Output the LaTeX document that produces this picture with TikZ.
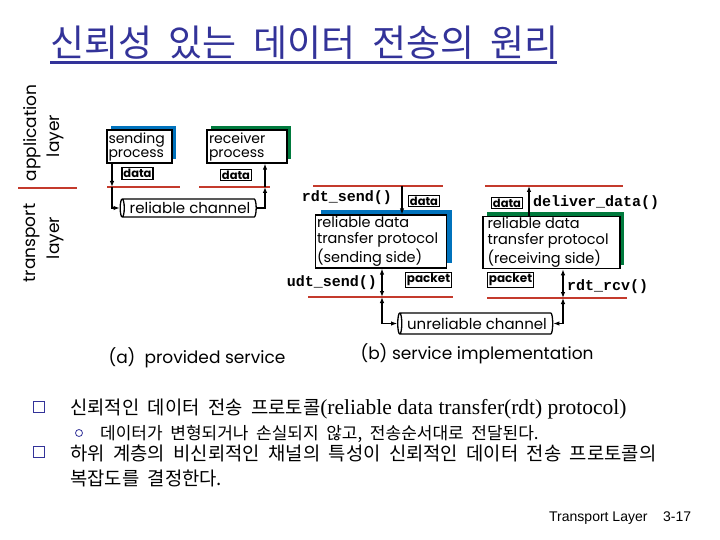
\documentclass[tikz,border=0pt]{standalone}
\usepackage{fontspec}
\setmainfont{Poppins}
\setmonofont{Liberation Mono}
\newfontfamily\cjk{Noto Sans CJK KR}[WordSpace=2]
\newfontfamily\serifrm{Liberation Serif}
\newfontfamily\arialsf{Liberation Sans}
\usepackage{tikz}
\usetikzlibrary{positioning,arrows.meta,shapes.geometric,shadows}
\definecolor{titleblue}{RGB}{51,51,153}
\definecolor{layerred}{RGB}{196,58,44}
\definecolor{sendblue}{RGB}{0,114,188}
\definecolor{recvgreen}{RGB}{0,122,61}
\newcommand{\fsz}[1]{\fontsize{#1}{#1}\selectfont}

\begin{document}
\begin{tikzpicture}[
  x=1pt, y=-1pt, >={Latex[length=6pt,width=4.5pt]},
  proc/.style={draw, line width=1.3pt, fill=white, align=flush left, inner sep=1.5pt, font=\fsz{14}},
  sendshadow/.style={general shadow={fill=sendblue, shadow xshift=#1, shadow yshift=#1}},
  recvshadow/.style={general shadow={fill=recvgreen, shadow xshift=#1, shadow yshift=#1}},
  rdtbox/.style={proc, font=\fontsize{14.5}{16}\selectfont, minimum height=53pt},
  tag/.style={draw, line width=1.1pt, inner sep=1.5pt, font=\fsz{11.5}\bfseries},
  fn/.style={font=\fsz{15}\ttfamily\bfseries, inner sep=0pt},
  chan/.style={cylinder, shape border rotate=180, draw, line width=1.3pt, aspect=0.3, inner sep=1pt, font=\fsz{15}},
  layer/.style={draw=layerred, line width=2pt},
  wire/.style={line width=1.1pt},
  lbl/.style={rotate=90, font=\fsz{17}},
  bulletsq/.style={draw=titleblue, line width=1.3pt, minimum size=11pt, inner sep=0pt},
  bulletci/.style={circle, draw=titleblue, line width=0.8pt, minimum size=7pt, inner sep=0pt},
  ko/.style={anchor=base west, inner sep=0pt},
]
  \useasboundingbox (0,0) rectangle (720,540);

  % title
  \node[ko, text=titleblue, font=\cjk\fsz{37}] (title) at (50,57) {신뢰성 있는 데이터 전송의 원리};
  \draw[titleblue, line width=3pt] (50,62.5) -- (557,62.5);

  % layer labels
  \node[lbl] (app) at (32,133) {application};
  \node[lbl] (appl) at (55,136) {layer};
  \node[lbl] (tra) at (32,243) {transport};
  \node[lbl] (tral) at (55,238) {layer};
  \draw[layer] (18,188) -- (77,188);

  % (a) provided service
  \node[proc, sendshadow=4pt, text width=62pt, minimum height=33pt] (sp) at (139.5,146.5) {sending\\process};
  \node[proc, recvshadow=4pt, text width=76pt, minimum height=33pt, inner xsep=2pt] (rp) at (247,146.5) {receiver\\process};
  \node[tag] (da1) at (137.5,173.5) {data};
  \node[tag] (da2) at (236,175) {data};
  \draw[layer] (107,187) -- (180,187);
  \draw[layer] (199,187) -- (270,187);
  \node[chan, minimum height=136pt, minimum width=18pt] (rc) at (190,208) {reliable channel};
  \coordinate (a1) at (112,187);
  \coordinate (a2) at (265,187);
  \draw[wire,->] (sp.south -| a1) -- (a1);
  \draw[wire,->] (a1) |- (rc.west);
  \draw[wire,->] (rc.east) -| (a2);
  \draw[wire,->] (a2) -- (a2 |- rp.south);

  % (b) service implementation
  \draw[layer] (313,186) -- (443,186);
  \draw[layer] (485,186) -- (623,186);
  \draw[layer] (308,297) -- (453,297);
  \draw[layer] (487,298) -- (627,298);
  \node[rdtbox, sendshadow=5pt, text width=128pt] (ss) at (381,241.5) {reliable data\\transfer protocol\\(sending side)};
  \node[rdtbox, recvshadow=4pt, text width=128pt, inner xsep=4.5pt, minimum height=51pt] (rs) at (551.5,242.5) {reliable data\\transfer protocol\\(receiving side)};
  \node[fn, anchor=east] (rsend) at (392,198) {rdt\_send()};
  \node[fn, anchor=east] (usend) at (377,283) {udt\_send()};
  \node[fn, anchor=west] (deliv) at (533,203) {deliver\_data()};
  \node[fn, anchor=west] (rrcv) at (567,287) {rdt\_rcv()};
  \node[tag] (db1) at (424,201) {data};
  \node[tag, font=\fsz{12}\bfseries] (pb1) at (428.5,280) {packet};
  \node[tag] (db2) at (507,203) {data};
  \node[tag, font=\fsz{12}\bfseries] (pb2) at (510.5,280) {packet};
  \node[chan, minimum height=155pt, minimum width=21pt] (uc) at (477,323.5) {unreliable channel};
  \coordinate (b1) at (402,186);
  \coordinate (b2) at (529,186);
  \coordinate (b3) at (382,297);
  \coordinate (b4) at (563,298);
  \draw[wire,->] (b1) -- (b1 |- ss.north);
  \draw[wire,->] (b2 |- rs.north) -- (b2);
  \draw[wire,<->] (ss.south -| b3) -- (b3);
  \draw[wire,<->] (b3) |- (uc.west);
  \draw[wire,<->] (rs.south -| b4) -- (b4);
  \draw[wire,<->] (b4) |- (uc.east);

  \node[anchor=west, font=\fsz{17}] (capa) at (105,358) {(a)\ \ provided service};
  \node[anchor=west, font=\fsz{17}] (capb) at (357,354) {(b) service implementation};

  % bullets
  \node[bulletsq] (sq1) at (39,407) {};
  \node[ko, font=\cjk\fsz{18.8}] (t1) at (70,414) {신뢰적인 데이터 전송 프로토콜{\serifrm\fsz{21.5}(reliable data transfer(rdt) protocol)}};
  \node[bulletci] (ci1) at (79,433) {};
  \node[ko, font=\cjk\fsz{17}] (t2) at (100,439) {데이터가 변형되거나 손실되지 않고, 전송순서대로 전달된다.};
  \node[bulletsq] (sq2) at (39,452) {};
  \node[ko, font=\cjk\fsz{18.8}] (t3) at (70,460) {하위 계층의 비신뢰적인 채널의 특성이 신뢰적인 데이터 전송 프로토콜의};
  \node[ko, font=\cjk\fsz{18.8}] (t4) at (70,485) {복잡도를 결정한다.};

  \node[ko, font=\arialsf\fsz{14}] (foot) at (549,521) {Transport Layer};
  \node[ko, font=\arialsf\fsz{14}] (page) at (663,521) {3-17};
\end{tikzpicture}
\end{document}
